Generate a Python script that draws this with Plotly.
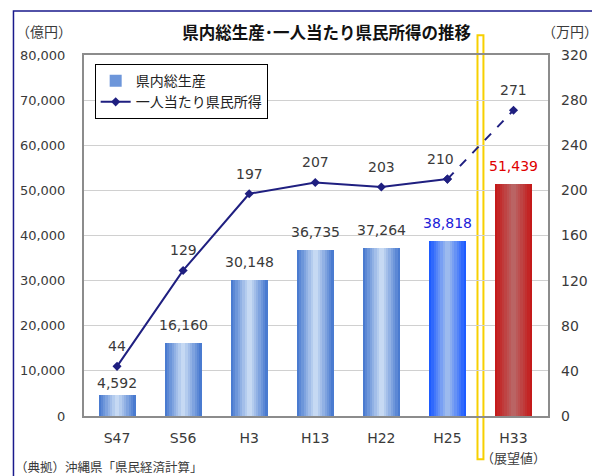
import plotly.graph_objects as go

# ---- data ----
categories = ["S47", "S56", "H3", "H13", "H22", "H25", "H33"]
gdp_values = [4592, 16160, 30148, 36735, 37264, 38818, 51439]          # 県内総生産 (億円)
income_values = [44, 129, 197, 207, 203, 210, 271]                     # 一人当たり県民所得 (万円)
left_ticks = [0, 10000, 20000, 30000, 40000, 50000, 60000, 70000, 80000]
right_ticks = [0, 40, 80, 120, 160, 200, 240, 280, 320]

# ---- styles ----
FONT = "DejaVu Sans, Noto Sans CJK JP"
CJK = "Noto Sans CJK JP"
NAVY = "#1f1f80"
TXT = "#3a3a3a"
edge_cols = ["#4a7bd0"] * 5 + ["#1e5cff", "#c41a1a"]
center_cols = ["#c6d9f3"] * 5 + ["#9cbaee", "#ba6464"]
label_cols = [TXT] * 5 + ["#2020d8", "#e00000"]
bar_label_shift = [2, 8, 8, 8, 8, 8, 8]
line_label_xshift = [0, 0, 0, 0, 0, -7, 0]

# page body has an 8px margin: figure is shrunk/shifted so the plot area lands where the reference has it
FIG_W, FIG_H = 592, 468


def hex2rgb(h):
    h = h.lstrip("#")
    return tuple(int(h[i:i + 2], 16) for i in (0, 2, 4))


def blend(a, b, t):
    ra, rb = hex2rgb(a), hex2rgb(b)
    return "rgb(%d,%d,%d)" % tuple(round(ra[i] + (rb[i] - ra[i]) * t) for i in range(3))


fig = go.Figure()

# gradient bars via overlaid narrowing layers
W = 0.56
N = 8
for k in range(N):
    t = k / (N - 1)
    cols = [blend(e, c, t) for e, c in zip(edge_cols, center_cols)]
    fig.add_trace(go.Bar(
        x=categories, y=gdp_values, width=W * (1 - k / N),
        marker=dict(color=cols, line=dict(width=0)),
        name="県内総生産", showlegend=(k == 2), legendrank=1,
        hoverinfo="skip",
    ))

# line: solid for actual, dashed for projection
fig.add_trace(go.Scatter(
    x=categories[:6], y=income_values[:6], yaxis="y2", mode="lines+markers",
    line=dict(color=NAVY, width=2), marker=dict(symbol="diamond", size=7, color=NAVY),
    name="一人当たり県民所得", legendrank=2,
))
fig.add_trace(go.Scatter(
    x=categories[5:], y=income_values[5:], yaxis="y2", mode="lines+markers",
    line=dict(color=NAVY, width=2, dash="dash"), marker=dict(symbol="diamond", size=7, color=NAVY),
    showlegend=False,
))

annotations = []
for i, (c, v) in enumerate(zip(categories, gdp_values)):
    annotations.append(dict(
        x=c, y=v, xref="x", yref="y", text=f"{v:,}", showarrow=False,
        yanchor="bottom", yshift=bar_label_shift[i],
        font=dict(size=14, color=label_cols[i], family=FONT),
    ))
for i, (c, v) in enumerate(zip(categories, income_values)):
    annotations.append(dict(
        x=c, y=v, xref="x", yref="y2", text=str(v), showarrow=False,
        yanchor="bottom", yshift=10, xshift=line_label_xshift[i],
        font=dict(size=14, color=TXT, family=FONT),
    ))

annotations += [
    dict(x=-0.1498, y=1.0665, xref="paper", yref="paper", text="（億円）", showarrow=False,
         xanchor="left", yanchor="middle", font=dict(size=14, color=TXT, family=CJK)),
    dict(x=0.983, y=1.0665, xref="paper", yref="paper", text="（万円）", showarrow=False,
         xanchor="left", yanchor="middle", font=dict(size=14, color=TXT, family=CJK)),
    dict(x=-0.152, y=-0.141, xref="paper", yref="paper", text="（典拠）沖縄県「県民経済計算」",
         showarrow=False, xanchor="left", yanchor="middle",
         font=dict(size=12.5, color=TXT, family=CJK)),
    dict(x="H33", y=-0.116, xref="x", yref="paper", text="（展望値）", showarrow=False,
         xanchor="center", yanchor="middle", font=dict(size=13, color=TXT, family=CJK)),
]

shapes = [
    # outer navy frame (cropped on right/bottom)
    dict(type="rect", xref="paper", yref="paper", x0=-0.152, x1=1.3, y0=-0.4, y1=1.122,
         line=dict(color="#1a1a8c", width=1.5), fillcolor="rgba(0,0,0,0)", layer="below"),
    # yellow double separator
    dict(type="rect", xref="x", yref="paper", x0=5.5 - 0.045, x1=5.5 + 0.045, y0=-0.12, y1=1.055,
         line=dict(color="#f7d000", width=2), fillcolor="white", layer="between"),
]

fig.update_layout(
    width=FIG_W, height=FIG_H,
    margin=dict(l=73, r=37, t=47, b=60),
    paper_bgcolor="white", plot_bgcolor="white",
    barmode="overlay", bargap=0,
    font=dict(family=FONT, size=14, color=TXT),
    title=dict(text="<b>県内総生産･一人当たり県民所得の推移</b>", x=0.523, xref="paper", xanchor="center",
               y=1 - 25 / FIG_H, yref="container", yanchor="middle",
               font=dict(size=16.5, color="#111111", family=CJK)),
    xaxis=dict(type="category", categoryorder="array", categoryarray=categories,
               showline=True, mirror=True, linecolor="#8c8c8c", linewidth=2,
               showgrid=False, ticks="", ticklabelstandoff=8,
               tickfont=dict(size=14, color=TXT, family=FONT)),
    yaxis=dict(range=[0, 80000], tickvals=left_ticks, tickformat=",",
               showline=True, mirror=True, linecolor="#8c8c8c", linewidth=2,
               showgrid=True, gridcolor="#d0d0d0", gridwidth=1, zeroline=False,
               ticks="", ticklabelstandoff=14,
               tickfont=dict(size=13, color=TXT, family=FONT)),
    yaxis2=dict(range=[0, 320], tickvals=right_ticks, overlaying="y", side="right",
                showgrid=False, zeroline=False, showline=False, ticks="", ticklabelstandoff=12,
                tickfont=dict(size=14, color=TXT, family=FONT)),
    legend=dict(x=0.023, y=0.975, xanchor="left", yanchor="top", bgcolor="white",
                bordercolor="#000000", borderwidth=1, font=dict(size=14, family=CJK, color="#222222"),
                tracegroupgap=0, itemwidth=30),
    annotations=annotations,
    shapes=shapes,
    showlegend=True,
)

fig.write_html("out.html")
